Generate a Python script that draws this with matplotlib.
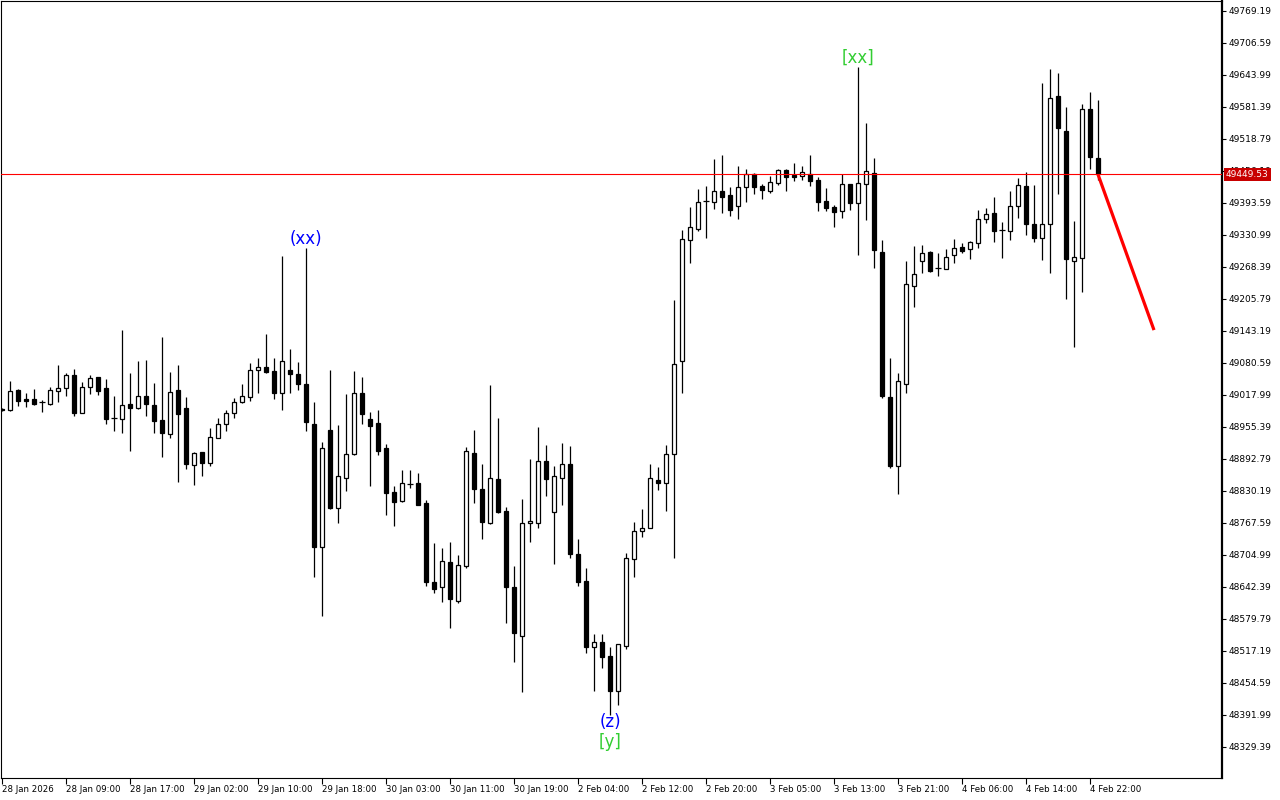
import matplotlib
matplotlib.use('Agg')
import matplotlib.pyplot as plt
from matplotlib.transforms import blended_transform_factory

opens = [48991, 48989, 49028, 49010, 49010, 49004, 49000, 49026, 49032, 49057,
         48983, 49034, 49053, 49032, 48973, 48971, 49000, 48993, 49016, 48998,
         48969, 48942, 49028, 48993, 48881, 48907, 48885, 48934, 48961, 48983,
         49004, 49014, 49067, 49073, 49065, 49022, 49067, 49059, 49040, 48961,
         48721, 48950, 48797, 48856, 48903, 49022, 48971, 48963, 48914, 48828,
         48811, 48844, 48846, 48807, 48652, 48642, 48691, 48615, 48683, 48905,
         48834, 48768, 48854, 48791, 48642, 48547, 48768, 48768, 48889, 48789,
         48856, 48883, 48707, 48654, 48525, 48535, 48507, 48439, 48527, 48697,
         48752, 48758, 48852, 48846, 48903, 49085, 49321, 49343, 49397, 49396,
         49417, 49409, 49388, 49425, 49450, 49427, 49417, 49433, 49458, 49448,
         49446, 49450, 49439, 49397, 49386, 49378, 49431, 49394, 49431, 49452,
         49298, 49014, 48879, 49040, 49231, 49280, 49298, 49266, 49264, 49292,
         49307, 49304, 49315, 49362, 49374, 49341, 49339, 49388, 49427, 49352,
         49325, 49352, 49603, 49534, 49280, 49286, 49577, 49482]
highs = [48993, 49045, 49030, 49022, 49030, 49008, 49034, 49077, 49061, 49069,
         49043, 49057, 49054, 49049, 49016, 49145, 49061, 49085, 49086, 49041,
         49131, 49063, 49077, 49014, 48907, 48907, 48953, 48973, 48989, 49012,
         49040, 49081, 49090, 49137, 49090, 49290, 49108, 49083, 49306, 49004,
         48926, 49067, 48959, 49020, 49065, 49053, 48985, 48989, 48922, 48840,
         48871, 48871, 48865, 48813, 48728, 48719, 48730, 48705, 48916, 48950,
         48883, 49038, 48973, 48799, 48684, 48815, 48893, 48955, 48920, 48879,
         48924, 48918, 48736, 48680, 48550, 48550, 48525, 48531, 48709, 48770,
         48795, 48883, 48877, 48920, 49204, 49341, 49386, 49421, 49427, 49480,
         49488, 49425, 49466, 49460, 49452, 49431, 49446, 49460, 49460, 49472,
         49466, 49488, 49444, 49423, 49390, 49450, 49431, 49660, 49550, 49482,
         49321, 49090, 49061, 49280, 49309, 49311, 49300, 49296, 49304, 49323,
         49315, 49319, 49380, 49384, 49405, 49356, 49417, 49442, 49454, 49429,
         49628, 49656, 49648, 49581, 49358, 49587, 49611, 49595]
lows = [48987, 48987, 48996, 48995, 48999, 48985, 48998, 49004, 49016, 48977,
        48982, 49020, 49018, 48961, 48948, 48944, 48908, 48991, 48977, 48944,
        48897, 48934, 48848, 48873, 48842, 48860, 48879, 48933, 48948, 48973,
        49002, 49006, 49022, 49061, 49010, 48989, 49022, 49028, 48948, 48662,
        48586, 48795, 48768, 48830, 48901, 48961, 48840, 48901, 48783, 48762,
        48809, 48836, 48802, 48644, 48631, 48613, 48562, 48611, 48680, 48807,
        48736, 48766, 48787, 48572, 48496, 48437, 48730, 48758, 48820, 48687,
        48803, 48699, 48644, 48513, 48439, 48484, 48392, 48412, 48521, 48662,
        48740, 48757, 48832, 48791, 48699, 49022, 49276, 49339, 49325, 49382,
        49374, 49368, 49362, 49396, 49411, 49401, 49413, 49429, 49417, 49437,
        49439, 49427, 49378, 49378, 49347, 49364, 49380, 49292, 49360, 49266,
        49012, 48875, 48824, 49022, 49190, 49257, 49259, 49251, 49264, 49276,
        49296, 49284, 49305, 49354, 49317, 49286, 49321, 49364, 49331, 49317,
        49282, 49257, 49411, 49206, 49112, 49219, 49460, 49439]
closes = [48989, 49026, 49006, 49006, 49000, 49004, 49028, 49032, 49057, 48983,
          49034, 49051, 49026, 48971, 48973, 48998, 48993, 49016, 49000, 48967,
          48944, 49024, 48981, 48883, 48905, 48885, 48936, 48961, 48983, 49004,
          49016, 49067, 49073, 49063, 49022, 49085, 49059, 49040, 48965, 48721,
          48914, 48797, 48860, 48903, 49022, 48981, 48957, 48908, 48826, 48809,
          48846, 48844, 48803, 48652, 48638, 48693, 48619, 48685, 48908, 48834,
          48770, 48856, 48789, 48642, 48552, 48768, 48772, 48889, 48854, 48860,
          48883, 48707, 48652, 48525, 48535, 48505, 48439, 48531, 48699, 48752,
          48758, 48856, 48846, 48903, 49079, 49323, 49347, 49396, 49397, 49417,
          49405, 49380, 49425, 49450, 49425, 49419, 49435, 49458, 49444, 49444,
          49454, 49437, 49396, 49384, 49376, 49431, 49394, 49433, 49456, 49302,
          49016, 48879, 49045, 49235, 49255, 49296, 49261, 49266, 49288, 49306,
          49300, 49317, 49362, 49372, 49339, 49341, 49388, 49429, 49352, 49325,
          49352, 49599, 49540, 49284, 49288, 49577, 49484, 49449.53]

current_price = 49449.53
trend_x = [137, 144]
trend_y = [49449.53, 49145.0]

price_ticks = [49769.19 - 62.6 * k for k in range(24)]
time_tick_pos = [0, 8, 16, 24, 32, 40, 48, 56, 64, 72, 80, 88, 96, 104, 112, 120, 128, 136]
time_tick_labels = ['28 Jan 2026', '28 Jan 09:00', '28 Jan 17:00', '29 Jan 02:00',
                    '29 Jan 10:00', '29 Jan 18:00', '30 Jan 03:00', '30 Jan 11:00',
                    '30 Jan 19:00', '2 Feb 04:00', '2 Feb 12:00', '2 Feb 20:00',
                    '3 Feb 05:00', '3 Feb 13:00', '3 Feb 21:00', '4 Feb 06:00',
                    '4 Feb 14:00', '4 Feb 22:00']

# wave labels: (bar index, price, text, colour)
wave_labels = [(38, 49323, '(xx)', '#0000FF'),
               (107, 49677, '[xx]', '#32CD32'),
               (76, 48378, '(z)', '#0000FF'),
               (76, 48339, '[y]', '#32CD32')]

fig = plt.figure(figsize=(12.8, 8), dpi=100)
fig.patch.set_facecolor('white')
ax = fig.add_axes([1 / 1280, 22 / 800, 1221 / 1280, 777 / 800])
ax.set_facecolor('white')

n = len(opens)
xs = list(range(n))
ax.vlines(xs, lows, highs, color='black', linewidth=0.9, zorder=2)

for i in range(n):
    o, c = opens[i], closes[i]
    if o == c:
        ax.hlines(o, i - 0.32, i + 0.32, color='black', linewidth=0.9, zorder=3)
        continue
    bottom = min(o, c)
    height = abs(c - o)
    fc = 'white' if c > o else 'black'
    ax.bar(i, height, bottom=bottom, width=0.5, facecolor=fc, edgecolor='black',
           linewidth=0.9, zorder=3)

ax.axhline(current_price, color='#FF0000', linewidth=0.8, zorder=4)
ax.plot(trend_x, trend_y, color='#FF0000', linewidth=2.3, zorder=5,
        solid_capstyle='butt')

for bx, py, txt, col in wave_labels:
    ax.text(bx, py, txt, color=col, fontsize=12, ha='center', va='center', zorder=6)

ax.set_xlim(-0.125, 152.5)
ax.set_ylim(48268.74, 49788.75)

ax.yaxis.tick_right()
ax.set_yticks(price_ticks)
ax.set_yticklabels(['%.2f' % v for v in price_ticks], fontsize=6.5)
ax.tick_params(axis='y', direction='out', length=3, width=0.8, pad=1.5)

ax.set_xticks(time_tick_pos)
ax.set_xticklabels(time_tick_labels, fontsize=6.2, ha='left')
ax.tick_params(axis='x', direction='out', length=4, width=0.8, pad=1)

for s in ['left', 'top', 'bottom']:
    ax.spines[s].set_linewidth(0.8)
ax.spines['right'].set_linewidth(1.6)

tr = blended_transform_factory(ax.transAxes, ax.transData)
ax.text(1.0 + 4 / 1221, current_price, '%.2f' % current_price, transform=tr,
        ha='left', va='center', color='white', fontsize=6.5, zorder=10, clip_on=False,
        bbox=dict(boxstyle='square,pad=0.2', fc='#C80000', ec='none'))

fig.savefig('out.png', dpi=100)
